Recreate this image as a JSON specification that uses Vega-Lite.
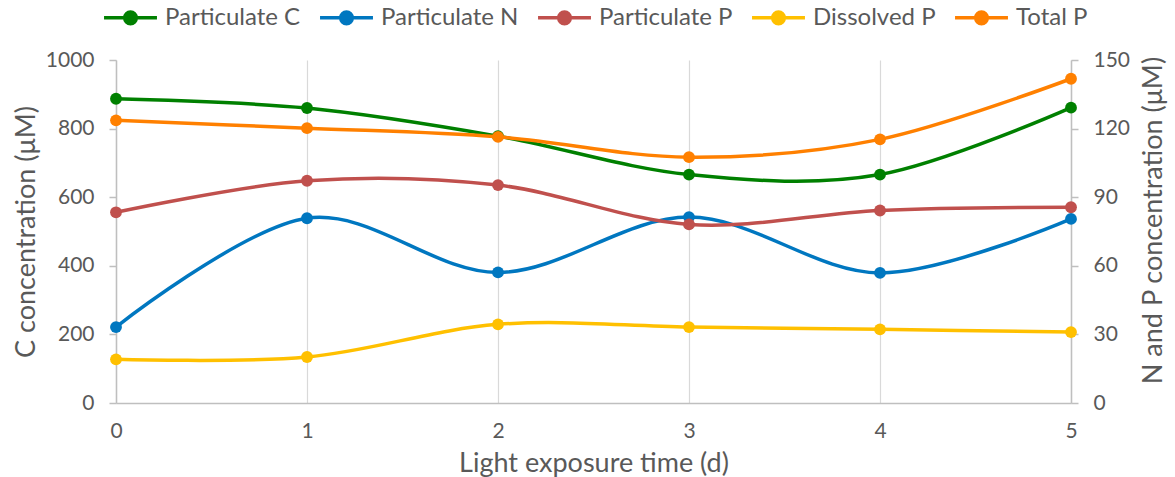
{
  "$schema": "https://vega.github.io/schema/vega-lite/v6.json",
  "width": 955,
  "height": 343,
  "autosize": "none",
  "padding": {"left": 116, "top": 60, "right": 104, "bottom": 74},
  "background": "white",
  "config": {
    "view": {"stroke": null},
    "font": "Lato",
    "axis": {
      "labelFont": "Lato",
      "titleFont": "Lato",
      "labelColor": "#595959",
      "titleColor": "#595959",
      "labelFontSize": 21,
      "titleFontSize": 27,
      "titleFontWeight": "normal",
      "domainColor": "#bfbfbf",
      "domainWidth": 1.5,
      "tickColor": "#bfbfbf",
      "tickWidth": 1.5,
      "gridColor": "#d9d9d9",
      "gridWidth": 1.2
    }
  },
  "data": {
    "values": [
      {"day": 0, "series": "Particulate C", "value": 887},
      {"day": 1, "series": "Particulate C", "value": 860},
      {"day": 2, "series": "Particulate C", "value": 778},
      {"day": 3, "series": "Particulate C", "value": 666},
      {"day": 4, "series": "Particulate C", "value": 666},
      {"day": 5, "series": "Particulate C", "value": 861},
      {"day": 0, "series": "Particulate N", "value": 33.2},
      {"day": 1, "series": "Particulate N", "value": 80.8},
      {"day": 2, "series": "Particulate N", "value": 57.1},
      {"day": 3, "series": "Particulate N", "value": 81.3},
      {"day": 4, "series": "Particulate N", "value": 56.9},
      {"day": 5, "series": "Particulate N", "value": 80.5},
      {"day": 0, "series": "Particulate P", "value": 83.4},
      {"day": 1, "series": "Particulate P", "value": 97.2},
      {"day": 2, "series": "Particulate P", "value": 95.3},
      {"day": 3, "series": "Particulate P", "value": 78.1},
      {"day": 4, "series": "Particulate P", "value": 84.2},
      {"day": 5, "series": "Particulate P", "value": 85.6},
      {"day": 0, "series": "Dissolved P", "value": 19.1},
      {"day": 1, "series": "Dissolved P", "value": 20.1},
      {"day": 2, "series": "Dissolved P", "value": 34.4},
      {"day": 3, "series": "Dissolved P", "value": 33.2},
      {"day": 4, "series": "Dissolved P", "value": 32.2},
      {"day": 5, "series": "Dissolved P", "value": 31.0},
      {"day": 0, "series": "Total P", "value": 123.6},
      {"day": 1, "series": "Total P", "value": 120.2},
      {"day": 2, "series": "Total P", "value": 116.4},
      {"day": 3, "series": "Total P", "value": 107.5},
      {"day": 4, "series": "Total P", "value": 115.3},
      {"day": 5, "series": "Total P", "value": 141.8}
    ]
  },
  "encoding": {
    "x": {
      "field": "day",
      "type": "quantitative",
      "scale": {"domain": [0, 5], "nice": false, "zero": false},
      "axis": {
        "title": "Light exposure time (d)",
        "values": [0, 1, 2, 3, 4, 5],
        "grid": true,
        "ticks": false,
        "tickSize": 0,
        "labelPadding": 17,
        "titlePadding": 9,
        "labelFlush": false
      }
    },
    "color": {
      "field": "series",
      "type": "nominal",
      "scale": {
        "domain": ["Particulate C", "Particulate N", "Particulate P", "Dissolved P", "Total P"],
        "range": ["#008000", "#0077c0", "#c0504d", "#ffc000", "#ff8000"]
      },
      "legend": {
        "orient": "none",
        "legendX": -14,
        "legendY": -71,
        "direction": "horizontal",
        "title": null,
        "padding": 0,
        "symbolType": "M-1,0H1M-0.22,0A0.22,0.22,0,1,1,0.22,0A0.22,0.22,0,1,1,-0.22,0Z",
        "symbolSize": 2800,
        "symbolStrokeWidth": 3.5,
        "labelFont": "Lato",
        "labelFontSize": 24,
        "labelColor": "#595959",
        "labelOffset": 6,
        "labelLimit": 300,
        "columnPadding": 12,
        "encode": {
          "symbols": {
            "update": {
              "fill": {"scale": "color", "field": "value"},
              "stroke": {"scale": "color", "field": "value"}
            }
          }
        }
      }
    }
  },
  "layer": [
    {
      "transform": [{"filter": "datum.series === 'Particulate C'"}],
      "encoding": {
        "y": {
          "field": "value",
          "type": "quantitative",
          "scale": {"domain": [0, 1000], "nice": false},
          "axis": {
            "orient": "left",
            "title": "C concentration (μM)",
            "format": "d",
            "values": [0, 200, 400, 600, 800, 1000],
            "grid": false,
            "tickSize": 7,
            "labelPadding": 15,
            "titlePadding": 5
          }
        }
      },
      "layer": [
        {"mark": {"type": "line", "interpolate": "cardinal", "strokeWidth": 3.5}},
        {"mark": {"type": "point", "filled": true, "opacity": 1, "size": 140}}
      ]
    },
    {
      "transform": [{"filter": "datum.series !== 'Particulate C'"}],
      "encoding": {
        "y": {
          "field": "value",
          "type": "quantitative",
          "scale": {"domain": [0, 150], "nice": false},
          "axis": {
            "orient": "right",
            "title": "N and P concentration (μM)",
            "titleAngle": 270,
            "titleBaseline": "top",
            "titleY": 160,
            "values": [0, 30, 60, 90, 120, 150],
            "grid": false,
            "tickSize": 7,
            "labelPadding": 15,
            "titlePadding": 11
          }
        }
      },
      "layer": [
        {"mark": {"type": "line", "interpolate": "cardinal", "strokeWidth": 3.5}},
        {"mark": {"type": "point", "filled": true, "opacity": 1, "size": 140}}
      ]
    }
  ],
  "resolve": {"scale": {"y": "independent"}}
}
